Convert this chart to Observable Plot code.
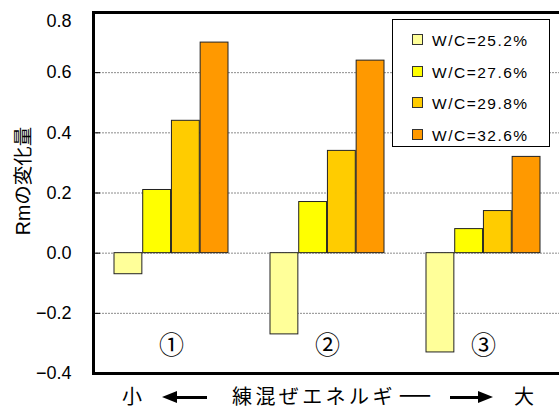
<!DOCTYPE html>
<html>
<head>
<meta charset="utf-8">
<script src="https://cdn.jsdelivr.net/npm/d3@7"></script>
<script src="https://cdn.jsdelivr.net/npm/@observablehq/plot@0.6"></script>
<style>
  body { margin: 0; background: #fff; }
  #chart { position: relative; width: 559px; height: 413px; overflow: hidden; background: #fff;
           font-family: "Liberation Sans", "Noto Sans CJK JP", sans-serif; }
  #chart svg { display: block; }
  #legend { position: absolute; left: 392px; top: 19px; width: 158px; height: 128px;
            border: 1px solid #000; background: #fff; box-sizing: border-box; }
  .item { position: absolute; left: 19px; height: 20px; display: flex; align-items: center; }
  .swatch { width: 11px; height: 11px; border: 1px solid #333; box-sizing: border-box; margin-right: 9px; margin-top: -3px; }
  .item span { font-size: 15.5px; letter-spacing: 1.5px; color: #000; }
  .cap { position: absolute; top: 382px; font-family: "Noto Sans CJK JP", sans-serif; font-size: 20px; line-height: 28px; color: #000; white-space: nowrap; }
  .cap .long { display: inline-block; transform: scaleX(1.9); transform-origin: left center; }
  .arrow { position: absolute; top: 396px; height: 3px; background: #000; }
  .arrow::before { content: ""; position: absolute; top: -5px; border-top: 6.5px solid transparent; border-bottom: 6.5px solid transparent; }
  .arrow.left::before { left: -15px; border-right: 15px solid #000; }
  .arrow.right::before { right: -15px; border-left: 15px solid #000; }
</style>
</head>
<body>
<div id="chart"></div>
<script>
// Mixing-energy levels and W/C ratios
const groups = ["①", "②", "③"];
const series = ["W/C=25.2%", "W/C=27.6%", "W/C=29.8%", "W/C=32.6%"];
const colors = ["#ffff99", "#ffff00", "#ffcc00", "#ff9900"];

// Change in Rm for each W/C ratio, one value per mixing-energy level
const wc252 = [-0.07, -0.27, -0.33];
const wc276 = [0.21, 0.17, 0.08];
const wc298 = [0.44, 0.34, 0.14];
const wc326 = [0.70, 0.64, 0.32];

const yTicks = [-0.4, -0.2, 0.0, 0.2, 0.4, 0.6, 0.8];
const yLabel = "Rmの変化量";
const captionSmall = "小";
const captionText = "練混ぜエネルギー";
const captionLarge = "大";

const valuesBySeries = [wc252, wc276, wc298, wc326];
const rows = series.flatMap((s, i) =>
  groups.map((g, j) => ({group: g, series: s, value: valuesBySeries[i][j]}))
);

const W = 559, H = 384, mL = 93, mT = 12, mB = H - 373, mR = -3;
const xOpts = {type: "band", domain: groups, range: [mL, W - mR], paddingInner: 0.267, paddingOuter: 0.13};
const bw = Plot.scale({x: xOpts}).bandwidth;
const sub = bw / series.length;
const innerTicks = yTicks.slice(1, -1);
const fmt = d3.format(".1f");

const plot = Plot.plot({
  width: W, height: H,
  marginLeft: mL, marginRight: mR, marginTop: mT, marginBottom: mB,
  style: {fontFamily: '"Liberation Sans", "Noto Sans CJK JP", sans-serif', background: "#fff", color: "#000"},
  x: {...xOpts, axis: null},
  y: {domain: [-0.4, 0.8], axis: null},
  color: {domain: series, range: colors},
  marks: [
    Plot.gridY(innerTicks, {stroke: "#8c8c8c", strokeOpacity: 1, strokeWidth: 1, strokeDasharray: "2,1"}),
    // one mark per series, each filling its quarter of the group band
    ...series.map((s, i) => Plot.barY(rows.filter(d => d.series === s), {
      x: "group", y: "value", fill: "series", stroke: "#222", strokeWidth: 1,
      insetLeft: i * sub, insetRight: (series.length - 1 - i) * sub
    })),
    // short inward ticks on the left edge
    Plot.ruleY(innerTicks, {stroke: "#000", strokeWidth: 1, insetRight: (W - mR - mL) - 7}),
    Plot.axisY(yTicks.slice(0, -1), {
      tickSize: 0, tickPadding: 22, fontSize: 18, tickFormat: fmt, label: null
    }),
    // the top label sits a little below the frame's top edge
    Plot.axisY(yTicks.slice(-1), {
      tickSize: 0, tickPadding: 22, fontSize: 18, tickFormat: fmt, label: null, dy: 9
    }),
    Plot.text([yLabel], {frameAnchor: "left", textAnchor: "middle", rotate: -90, dx: -70, dy: -12,
      fontSize: 19.5, fill: "#000"}),
    Plot.text(groups, {x: d => d, frameAnchor: "bottom", dy: -20, fontSize: 25,
      fontFamily: '"Noto Sans CJK JP", sans-serif', fill: "#000"}),
    Plot.frame({stroke: "#000", strokeWidth: 3})
  ]
});

const chart = document.getElementById("chart");
chart.appendChild(plot);

// legend box in the upper right of the plot area
const legend = document.createElement("div");
legend.id = "legend";
series.forEach((s, i) => {
  const item = document.createElement("div");
  item.className = "item";
  item.style.top = (11 + i * 31.5) + "px";
  const sw = document.createElement("div");
  sw.className = "swatch";
  sw.style.background = colors[i];
  const label = document.createElement("span");
  label.textContent = s;
  item.append(sw, label);
  legend.appendChild(item);
});
chart.appendChild(legend);

// caption: small ← mixing energy → large
function addText(txt, left, extra) {
  const el = document.createElement("div");
  el.className = "cap";
  el.style.left = left + "px";
  if (extra) Object.assign(el.style, extra);
  // the closing long-vowel mark is drawn stretched
  if (txt.endsWith("ー")) {
    el.append(txt.slice(0, -1));
    const tail = document.createElement("span");
    tail.className = "long";
    tail.textContent = "ー";
    el.append(tail);
  } else {
    el.textContent = txt;
  }
  chart.appendChild(el);
}
function addArrow(dir, left, width) {
  const el = document.createElement("div");
  el.className = "arrow " + dir;
  el.style.left = left + "px";
  el.style.width = width + "px";
  chart.appendChild(el);
}
addText(captionSmall, 122);
addArrow("left", 177, 30);
addText(captionText, 232, {letterSpacing: "3.4px"});
addArrow("right", 450, 28);
addText(captionLarge, 514);
</script>
</body>
</html>
